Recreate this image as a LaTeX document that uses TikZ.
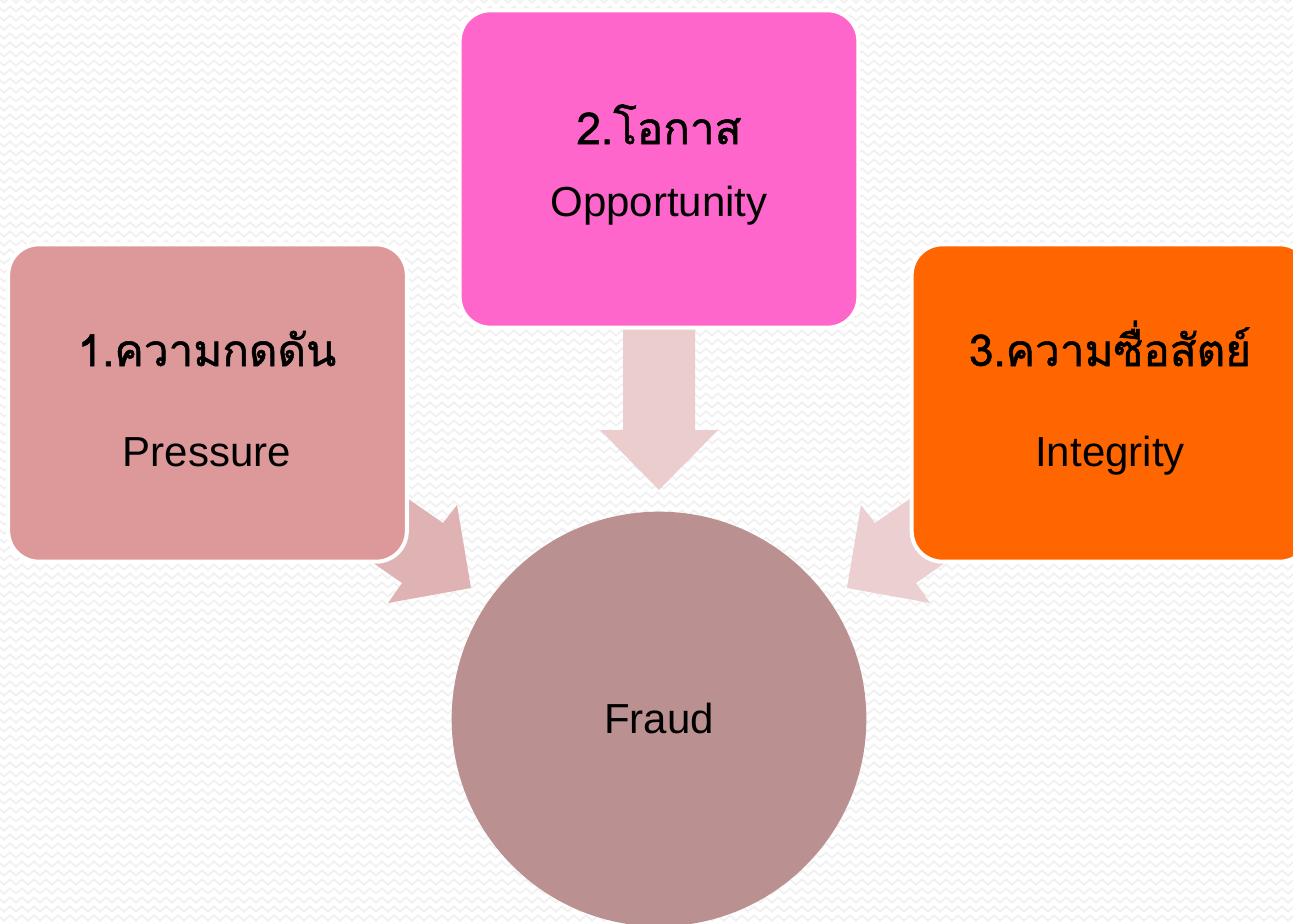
\documentclass[tikz,border=0pt]{standalone}
\usepackage{fontspec}
\setmainfont{Liberation Sans}
\newfontfamily\thaifont[Script=Thai,FakeBold=1.2]{Loma}
\usetikzlibrary{decorations.pathmorphing}
\definecolor{bgline}{HTML}{F0F0F0}
\definecolor{pressc}{HTML}{DD9999}
\definecolor{oppc}{HTML}{FF66CC}
\definecolor{intc}{HTML}{FF6600}
\definecolor{fraudc}{HTML}{BA9190}
\definecolor{arrL}{HTML}{DFB3B3}
\definecolor{arrD}{HTML}{EBCDCE}
\definecolor{arrR}{HTML}{ECCFD0}
\tikzset{
  box/.style={draw=white, line width=3pt, rounded corners=23pt, minimum width=299pt, minimum height=238pt, inner sep=0pt},
  thai/.style={font=\thaifont\fontsize{33}{38}\selectfont},
  eng/.style={font=\fontsize{31.5}{36}\selectfont}
}
\begin{document}
\begin{tikzpicture}[x=0.75pt,y=-0.75pt]
\useasboundingbox (0,0) rectangle (1293,924);
\clip (0,0) rectangle (1293,924);
\fill[white] (0,0) rectangle (1293,924);
\foreach \r in {0,9,...,930}{
  \draw[bgline, line width=1.2pt, decorate, decoration={zigzag, segment length=9pt, amplitude=2pt}] (-5,\r) -- (1300,\r);
}
% block arrows
\fill[arrL] (394,489) -- (443,523) -- (457,505) -- (471,588) -- (388,603) -- (402,583) -- (353,549) -- cycle;
\fill[arrR] (924,489) -- (875,523) -- (861,505) -- (847,588) -- (930,603) -- (916,583) -- (965,549) -- cycle;
\fill[arrD] (623,320) -- (695,320) -- (695,430) -- (718,430) -- (659,490) -- (600,430) -- (623,430) -- cycle;
% boxes
\node[box, fill=pressc] (press) at (207.5,403) {};
\node[box, fill=oppc] (opp) at (659,169) {};
\node[box, fill=intc] (integ) at (1111,403) {};
\node[circle, fill=fraudc, minimum size=311pt, inner sep=0pt] (fraud) at (659,719) {};
% texts
\node[thai, anchor=base] (pressTH) at (207,366) {1.ความกดดัน};
\node[eng, anchor=base] (pressEN) at (207,466) {Pressure};
\node[thai, anchor=base] (oppTH) at (659,144) {2.โอกาส};
\node[eng, anchor=base] (oppEN) at (659,216) {Opportunity};
\node[thai, anchor=base] (integTH) at (1110,366) {3.ความซื่อสัตย์};
\node[eng, anchor=base] (integEN) at (1110,466) {Integrity};
\node[eng, anchor=base] (fraudT) at (659,733) {Fraud};
\end{tikzpicture}
\end{document}
